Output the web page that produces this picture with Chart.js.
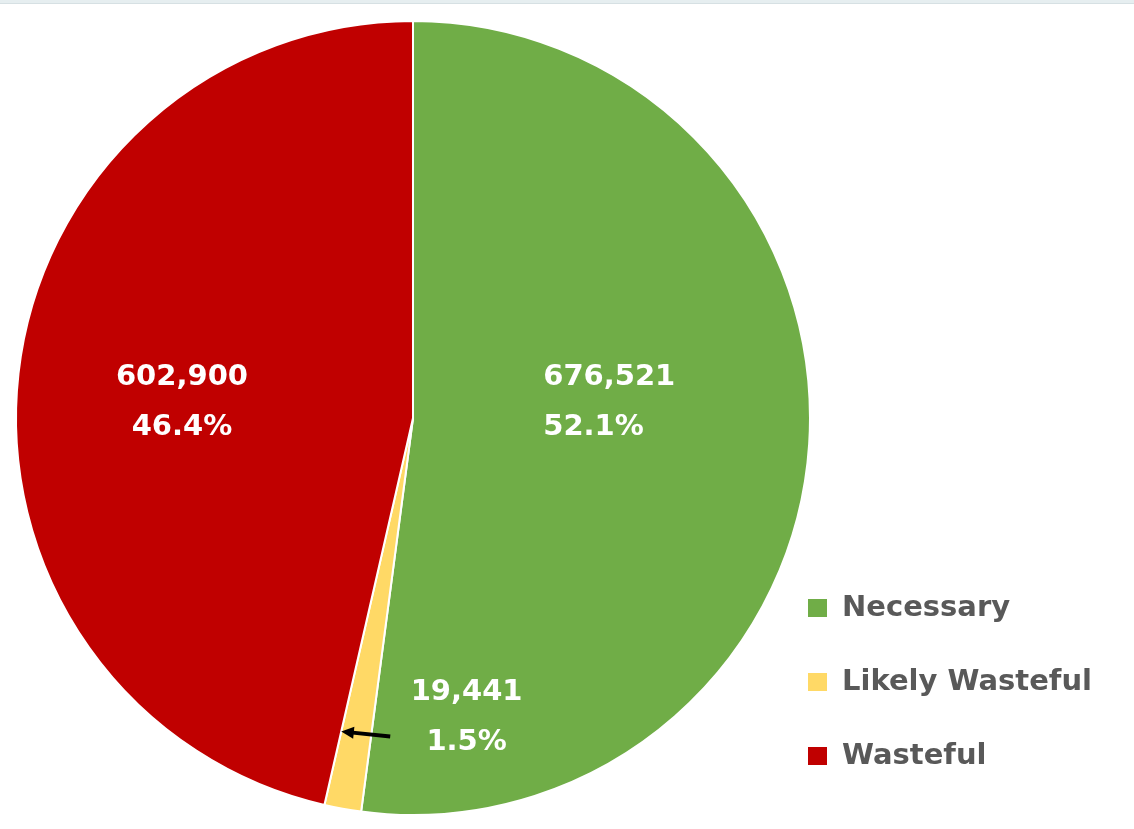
<!DOCTYPE html>
<html>
<head>
<meta charset="utf-8">
<script src="https://cdn.jsdelivr.net/npm/chart.js@4.4.1/dist/chart.umd.min.js"></script>
<style>
  html, body { margin: 0; padding: 0; background: #fff; }
  body { width: 1134px; height: 829px; position: relative; overflow: hidden; }
  .topbar { position: absolute; left: 0; top: 0; width: 1134px; height: 3px; background: #e6eef0; border-bottom: 1px solid #d6e0e3; }
  #wrap { position: absolute; left: 0; top: 0; width: 1134px; height: 829px; }
  #legend { position: absolute; left: 808px; top: 588px; font-family: "DejaVu Sans", sans-serif; font-weight: bold; font-size: 29px; color: #595959; }
  #legend div { height: 37px; line-height: 37px; margin-bottom: 37px; white-space: nowrap; }
  #legend span.box { display: inline-block; width: 19px; height: 18px; margin-right: 15px; vertical-align: -1px; }
</style>
</head>
<body>
<div class="topbar"></div>
<div id="wrap"><canvas id="pie" width="1134" height="829"></canvas></div>
<div id="legend"></div>
<script>
const categories = ["Necessary", "Likely Wasteful", "Wasteful"];
const counts = [676521, 19441, 602900];
const percents = ["52.1%", "1.5%", "46.4%"];
const colors = ['#70AD47', '#FFD966', '#C00000'];

// HTML legend
const legend = document.getElementById("legend");
categories.forEach((c, i) => {
  legend.innerHTML += `<div><span class="box" style="background:${colors[i]}"></span>${c}</div>`;
});

// label placement, relative to pie centre in radius units
const labelPos = [
  { dx: 0.328, dy: -0.04, align: 'left' },
  { dx: 0.135, dy: 0.755, align: 'center' },
  { dx: -0.582, dy: -0.04, align: 'center' }
];

const labelPlugin = {
  id: 'pieLabels',
  afterDatasetsDraw(chart) {
    const ctx = chart.ctx;
    const arcs = chart.getDatasetMeta(0).data;
    const cx = arcs[0].x, cy = arcs[0].y, r = arcs[0].outerRadius;
    ctx.save();
    ctx.font = 'bold 29px "DejaVu Sans", sans-serif';
    ctx.fillStyle = '#fff';
    ctx.textBaseline = 'middle';
    arcs.forEach((a, i) => {
      const p = labelPos[i];
      let x = cx + p.dx * r, y = cy + p.dy * r;
      ctx.textAlign = p.align;
      ctx.fillText(counts[i].toLocaleString('en-US'), x, y - 25);
      ctx.fillText(percents[i], x, y + 25);
    });
    // arrow pointing at the small slice (tip on its left edge)
    const s = arcs[1];
    const tipX = cx + Math.cos(s.endAngle) * r * 0.81, tipY = cy + Math.sin(s.endAngle) * r * 0.81;
    const tailX = tipX + 49, tailY = tipY + 5;
    const ang = Math.atan2(tipY - tailY, tipX - tailX);
    ctx.strokeStyle = '#000';
    ctx.fillStyle = '#000';
    ctx.lineWidth = 4;
    ctx.beginPath();
    ctx.moveTo(tailX, tailY);
    ctx.lineTo(tipX + Math.cos(ang + Math.PI) * 9, tipY + Math.sin(ang + Math.PI) * 9);
    ctx.stroke();
    ctx.beginPath();
    ctx.moveTo(tipX, tipY);
    ctx.lineTo(tipX - Math.cos(ang - 0.45) * 14, tipY - Math.sin(ang - 0.45) * 14);
    ctx.lineTo(tipX - Math.cos(ang + 0.45) * 14, tipY - Math.sin(ang + 0.45) * 14);
    ctx.closePath();
    ctx.fill();
    ctx.restore();
  }
};

new Chart(document.getElementById('pie').getContext('2d'), {
  type: 'pie',
  data: {
    labels: categories,
    datasets: [{
      data: counts,
      backgroundColor: colors,
      borderColor: '#fff',
      borderWidth: 2
    }]
  },
  options: {
    responsive: false,
    animation: false,
    layout: { padding: { left: 15, right: 323, top: 20, bottom: 13 } },
    plugins: {
      legend: { display: false },
      tooltip: { enabled: false }
    }
  },
  plugins: [labelPlugin]
});
</script>
</body>
</html>
